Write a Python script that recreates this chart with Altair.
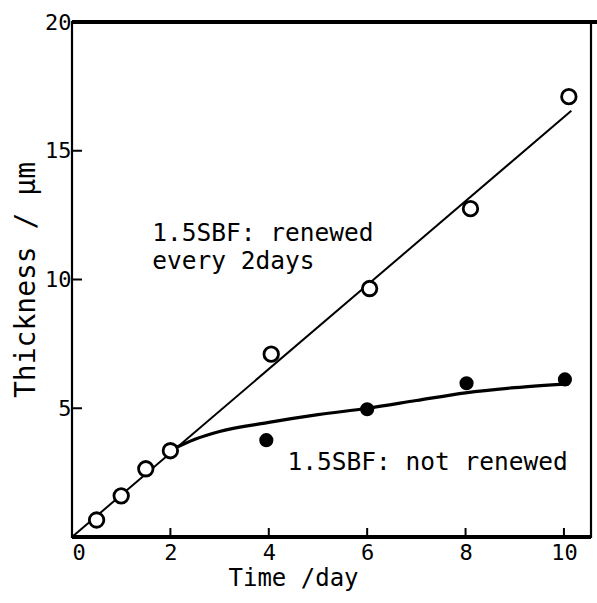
import altair as alt
import pandas as pd

# ---- data ----
renew_x = [0.5, 1.0, 1.5, 2.0, 4.05, 6.05, 8.1, 10.1]
renew_y = [0.66, 1.6, 2.65, 3.35, 7.1, 9.65, 12.75, 17.1]

fixed_x = [3.95, 6.0, 8.02, 10.02]
fixed_y = [3.76, 4.96, 5.97, 6.12]

fit_renew_x = [0.0, 10.15]
fit_renew_y = [0.0, 16.55]

curve_x = [2.0, 2.5, 3.0, 4.0, 5.0, 6.0, 7.0, 8.0, 9.0, 10.1]
curve_y = [3.37, 3.8, 4.1, 4.45, 4.75, 5.0, 5.3, 5.6, 5.8, 5.95]

x_ticks = [0, 2, 4, 6, 8, 10]
y_ticks = [5, 10, 15, 20]
x_inner_ticks = [2, 4, 6, 8, 10]
y_inner_ticks = [5, 10, 15]

ann_text = ["1.5SBF: renewed", "every 2days", "1.5SBF: not renewed"]
ann_x = [1.63, 1.63, 4.38]
ann_y = [11.5, 10.4, 2.6]

W, H = 519, 515
FONT = "DejaVu Sans Mono"

xs = alt.Scale(domain=[0, 10.55], nice=False, zero=False)
ys = alt.Scale(domain=[0, 20], nice=False, zero=False)

X = alt.X("x:Q", scale=xs, axis=alt.Axis(
    values=x_ticks, ticks=False, domain=False, grid=False, title="Time /day",
    labelFont=FONT, labelFontSize=22, labelColor="black", labelPadding=5,
    labelFontWeight="normal", format="d",
    titleFont=FONT, titleFontSize=24, titleFontWeight="normal", titleColor="black",
    titlePadding=3, titleX=221, titleAlign="center"))
Y = alt.Y("y:Q", scale=ys, axis=alt.Axis(
    values=y_ticks, ticks=False, domain=False, grid=False, title="Thickness / μm",
    labelFont=FONT, labelFontSize=22, labelColor="black", labelPadding=1,
    format="d",
    titleFont=FONT, titleFontSize=28, titleFontWeight="normal", titleColor="black",
    titlePadding=4))

df_renew = pd.DataFrame({"x": renew_x, "y": renew_y})
df_fixed = pd.DataFrame({"x": fixed_x, "y": fixed_y})
df_fit = pd.DataFrame({"x": fit_renew_x, "y": fit_renew_y})
df_curve = pd.DataFrame({"x": curve_x, "y": curve_y})
df_ann = pd.DataFrame({"x": ann_x, "y": ann_y, "t": ann_text})
df_xt = pd.DataFrame({"x": x_inner_ticks})
df_yt = pd.DataFrame({"y": y_inner_ticks})

fit_line = alt.Chart(df_fit).mark_line(color="black", strokeWidth=2).encode(x=X, y=Y)
curve_line = alt.Chart(df_curve).mark_line(color="black", strokeWidth=3.2,
                                           interpolate="monotone").encode(x=X, y=Y)
open_pts = alt.Chart(df_renew).mark_point(shape="circle", size=210, filled=True,
                                          fill="white", stroke="black",
                                          strokeWidth=2.8, opacity=1).encode(x=X, y=Y)
closed_pts = alt.Chart(df_fixed).mark_point(shape="circle", size=200, filled=True,
                                            color="black", opacity=1).encode(x=X, y=Y)
texts = alt.Chart(df_ann).mark_text(align="left", baseline="alphabetic", font=FONT,
                                    fontSize=24.5, color="black").encode(x=X, y=Y, text="t:N")
xticks = alt.Chart(df_xt).mark_rule(color="black", strokeWidth=2).encode(
    x=X, y=alt.value(H), y2=alt.value(H - 9))
yticks = alt.Chart(df_yt).mark_rule(color="black", strokeWidth=2).encode(
    y=Y, x=alt.value(0), x2=alt.value(10))
top_rule = alt.Chart(df_xt).mark_rule(color="black", strokeWidth=3.5).encode(
    y=alt.value(0), x=alt.value(0), x2=alt.value(W + 6))
bottom_rule = alt.Chart(df_xt).mark_rule(color="black", strokeWidth=4).encode(
    y=alt.value(H), x=alt.value(0), x2=alt.value(W))

chart = alt.layer(fit_line, curve_line, open_pts, closed_pts, texts, xticks, yticks,
                  top_rule, bottom_rule).properties(
    width=W, height=H,
    padding={"left": 72, "top": 22, "right": 6, "bottom": 66},
    autosize=alt.AutoSizeParams(type="none"),
    background="white",
).configure_view(stroke="black", strokeWidth=2.2)

chart.save("out.html", embed_options={"renderer": "svg", "actions": False})
